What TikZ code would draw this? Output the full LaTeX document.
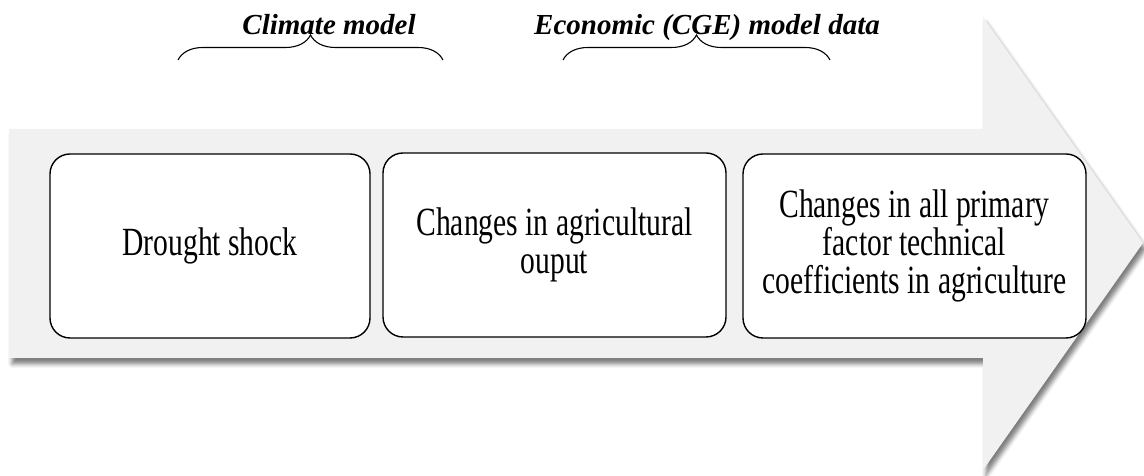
\documentclass[tikz,border=0pt]{standalone}
\usepackage{fontspec}
\setmainfont{Liberation Serif}
\newfontfamily\narrowfont[FakeStretch=0.74]{Liberation Serif}
\usetikzlibrary{shadows.blur,decorations.pathreplacing}

\definecolor{arrowfill}{HTML}{F1F1F1}

\begin{document}
\begin{tikzpicture}[x=1pt, y=1pt,
		blok/.style={draw, fill=white, line width=1.4pt, rounded corners=20pt,
			align=center, inner sep=0pt, minimum height=184pt,
			font=\narrowfont\fontsize{40}{38}\selectfont},
		skobka/.style={decorate, decoration={brace, amplitude=25pt}, line width=1.1pt},
		podpis/.style={anchor=base, font=\fontsize{29}{32}\selectfont\bfseries\itshape}]
		\useasboundingbox ( 0, 0 ) rectangle ( 1144, 476 );

		% стрелка
		\fill [arrowfill, blur shadow={shadow xshift=3pt, shadow yshift=-6pt, shadow blur radius=4pt, shadow opacity=50}]
			( 9, 347 ) -- ( 983, 347 ) -- ( 983, 459 ) -- ( 1143, 233 ) -- ( 983, 6 ) -- ( 983, 118 ) -- ( 9, 118 ) -- cycle;

		% блоки
		\node [blok, minimum width=320pt] (drought) at ( 210, 230 ) {Drought shock};
		\node [blok, minimum width=343pt] (output) at ( 554.5, 231 ) {Changes in agricultural\\ouput};
		\node [blok, minimum width=343pt] (coeff) at ( 914.5, 230 ) {Changes in all primary\\factor technical\\coefficients in agriculture};

		% фигурные скобки
		\coordinate (climL) at ( 178, 416 );
		\coordinate (climR) at ( 443, 416 );
		\coordinate (cgeL) at ( 563, 416 );
		\coordinate (cgeR) at ( 830, 416 );
		\draw [skobka] (climL) -- (climR);
		\draw [skobka] (cgeL) -- (cgeR);

		% подписи
		\node [podpis] (climate) at ( 329, 441 ) {Climate model};
		\node [podpis] (cge) at ( 707, 441 ) {Economic (CGE) model data};
	\end{tikzpicture}
\end{document}
